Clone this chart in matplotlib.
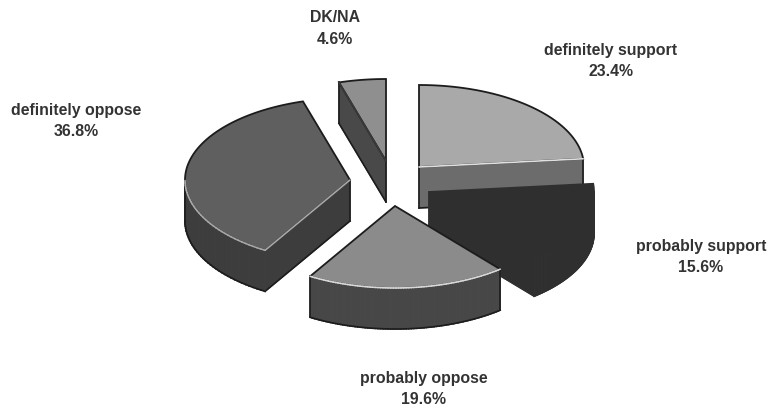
import matplotlib
matplotlib.use("Agg")
import matplotlib.pyplot as plt
import numpy as np

categories = ['definitely support', 'probably support', 'probably oppose', 'definitely oppose', 'DK/NA']
values = [23.4, 15.6, 19.6, 36.8, 4.6]

# where each exploded slice has its apex, in picture pixels
apex_x = [419, 429, 395, 350, 386]
apex_y = [167, 192, 206, 180, 161]
label_x = [611, 701, 424, 76, 335]
label_y = [50, 247, 379, 111, 18]

top_colors = ['#a9a9a9', '#2f2f2f', '#8b8b8b', '#5f5f5f', '#8f8f8f']
side_colors = ['#6c6c6c', '#2f2f2f', '#474747', '#3d3d3d', '#494949']
rim_colors = ['#e0e0e0', '#2f2f2f', '#d8d8d8', '#a8a8a8', '#3a3a3a']
edge_colors = ['#1c1c1c', '#2f2f2f', '#1c1c1c', '#1c1c1c', '#1c1c1c']

rx = 165
ry = 82
depth = 41

plt.rcParams['font.family'] = ['Liberation Sans', 'DejaVu Sans']

fig = plt.figure(figsize=(7.71, 4.09), dpi=100)
ax = fig.add_axes([0, 0, 1, 1])
ax.set_xlim(0, 771)
ax.set_ylim(409, 0)
ax.axis('off')


def slice_outline(cx, cy, start, stop):
    theta = np.radians(np.linspace(start, stop, 80))
    xs = cx + rx*np.sin(theta)
    ys = cy - ry*np.cos(theta)
    return np.r_[cx, xs, cx], np.r_[cy, ys, cy]


edges = np.r_[0, np.cumsum(values)]*3.6

# back to front so the nearer slices cover the others
for z, i in enumerate([4, 0, 3, 1, 2]):
    xs, ys = slice_outline(apex_x[i], apex_y[i], edges[i], edges[i+1])

    # side walls, one quad per outline segment facing the viewer
    for j in range(len(xs)-1):
        if xs[j+1] < xs[j]:
            ax.fill([xs[j], xs[j+1], xs[j+1], xs[j]],
                    [ys[j], ys[j+1], ys[j+1]+depth, ys[j]+depth],
                    color=side_colors[i], lw=0.8, zorder=z+1)
            ax.plot([xs[j], xs[j+1]], [ys[j]+depth, ys[j+1]+depth],
                    color=edge_colors[i], lw=1.2, zorder=z+1)

    # vertical edges of the wall
    for j in [np.argmax(xs), np.argmin(xs)]:
        ax.plot([xs[j], xs[j]], [ys[j], ys[j]+depth], color=edge_colors[i], lw=1.2, zorder=z+1.3)

    ax.fill(xs, ys, facecolor=top_colors[i], edgecolor=edge_colors[i], lw=1.3, zorder=z+1.5)

    # lighter rim where the top face meets the wall below it
    for j in range(len(xs)-1):
        if xs[j+1] < xs[j]:
            ax.plot(xs[j:j+2], ys[j:j+2], color=rim_colors[i], lw=1.2, zorder=z+1.6,
                    solid_capstyle='round')

for i in range(len(values)):
    ax.text(label_x[i], label_y[i], categories[i], ha='center', va='center',
            fontsize=11.4, fontweight='bold', color='#333333', zorder=20)
    ax.text(label_x[i], label_y[i]+21, '%.1f%%' % values[i], ha='center', va='center',
            fontsize=11.4, fontweight='bold', color='#333333', zorder=20)

fig.savefig('out.png', dpi=100)
